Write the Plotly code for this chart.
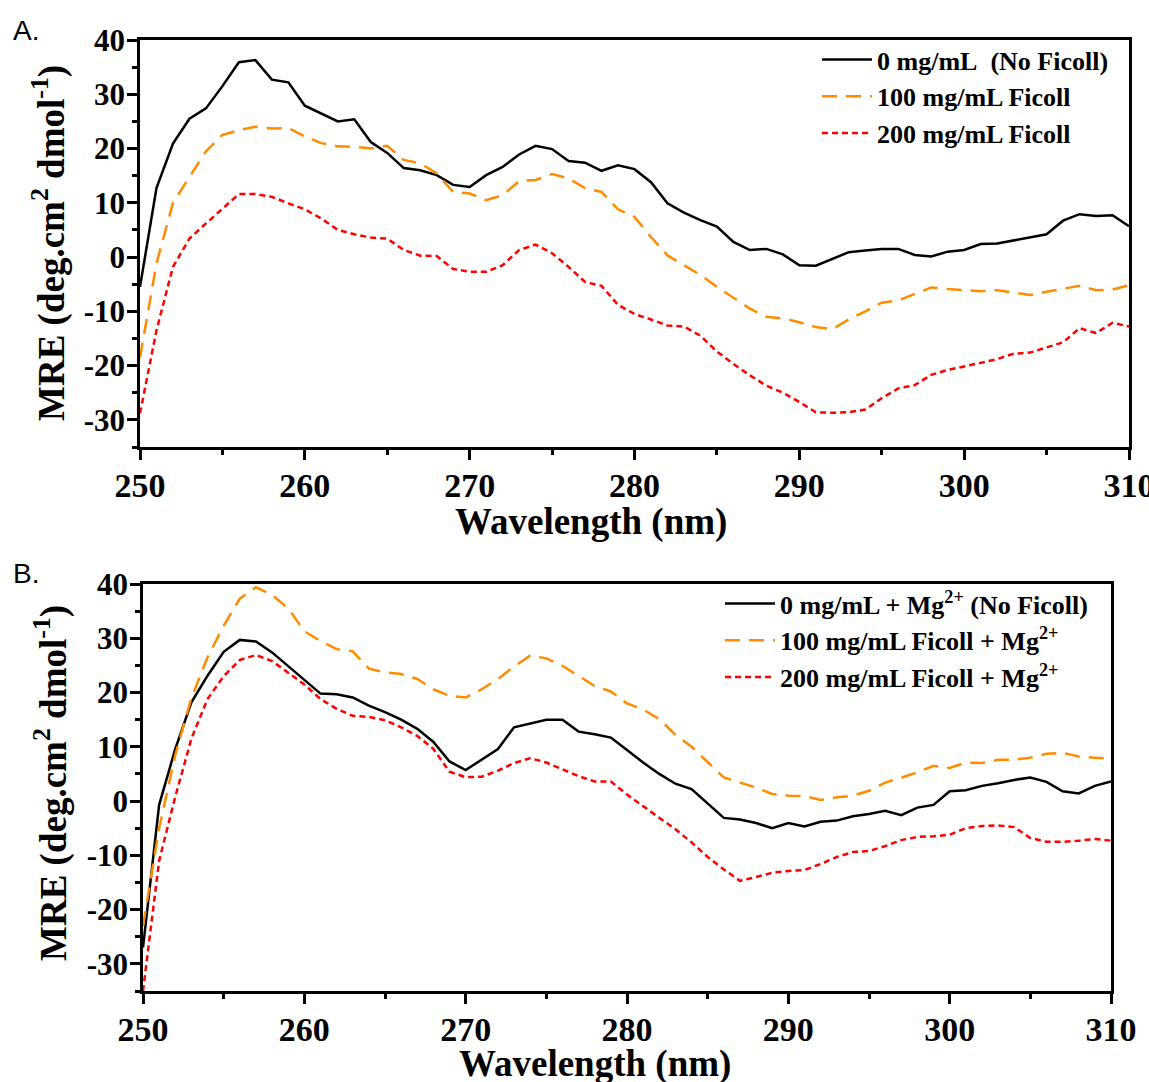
import plotly.graph_objects as go

W, H = 1149, 1082

wavelength = list(range(250, 311))

x_tick_vals = [250, 260, 270, 280, 290, 300, 310]
y_tick_vals = [-30, -20, -10, 0, 10, 20, 30, 40]
y_tick_text = ["-30", "-20", "-10", "0", "10", "20", "30", "40"]

a_no_ficoll = [-5.5, 12.7, 20.9, 25.5, 27.4, 31.5, 35.9, 36.3, 32.7, 32.2,
               27.9, 26.5, 25.0, 25.4, 21.2, 19.2, 16.4, 16.0, 15.1, 13.3,
               12.9, 15.1, 16.6, 18.9, 20.5, 19.9, 17.7, 17.4, 15.9, 16.9,
               16.2, 13.8, 9.9, 8.2, 6.8, 5.6, 2.8, 1.3, 1.5, 0.5,
               -1.5, -1.6, -0.4, 0.9, 1.2, 1.5, 1.5, 0.4, 0.1, 1.0,
               1.3, 2.4, 2.5, 3.1, 3.6, 4.2, 6.7, 7.9, 7.55, 7.7, 5.7]
a_ficoll_100 = [-18.5, -1.2, 10.0, 14.8, 19.5, 22.5, 23.4, 24.0, 23.7, 23.8,
                22.2, 21.0, 20.4, 20.3, 20.0, 20.5, 17.9, 17.3, 15.4, 12.0,
                11.7, 10.5, 11.4, 14.0, 14.2, 15.3, 14.5, 12.7, 12.0, 8.8,
                7.4, 3.7, 0.3, -1.5, -3.3, -5.5, -7.5, -9.5, -11.0, -11.3,
                -12.0, -12.9, -13.3, -11.5, -10.0, -8.4, -8.0, -6.8, -5.6, -5.9,
                -6.1, -6.3, -6.1, -6.5, -7.0, -6.4, -5.9, -5.3, -6.1, -6.0, -5.2]
a_ficoll_200 = [-28.8, -13.5, -1.8, 3.4, 6.2, 8.9, 11.6, 11.6, 11.1, 9.9,
                8.8, 7.1, 5.0, 4.2, 3.6, 3.4, 1.3, 0.25, 0.2, -2.2,
                -2.7, -2.7, -1.5, 1.3, 2.3, 0.7, -1.8, -4.6, -5.3, -8.8,
                -10.5, -11.5, -12.6, -12.8, -14.5, -17.4, -19.7, -21.8, -23.7, -25.0,
                -26.7, -28.6, -28.7, -28.6, -28.1, -26.0, -24.2, -23.6, -21.7, -20.8,
                -20.2, -19.5, -18.8, -17.8, -17.6, -16.6, -15.7, -13.1, -14.0, -12.1, -12.8]

b_no_ficoll = [-27.0, -0.7, 9.6, 18.2, 23.1, 27.5, 29.7, 29.4, 27.4, 24.9,
               22.3, 19.8, 19.7, 19.1, 17.6, 16.4, 15.0, 13.3, 10.9, 7.3,
               5.7, 7.6, 9.6, 13.6, 14.3, 15.0, 15.0, 12.8, 12.3, 11.7,
               9.4, 7.1, 5.0, 3.2, 2.2, -0.5, -3.1, -3.4, -4.05, -5.0,
               -4.05, -4.7, -3.8, -3.6, -2.8, -2.4, -1.8, -2.6, -1.2, -0.7,
               1.8, 2.0, 2.8, 3.3, 3.9, 4.35, 3.55, 1.8, 1.4, 2.8, 3.6]
b_ficoll_100 = [-23.0, -5.0, 8.5, 19.0, 26.5, 32.3, 37.3, 39.4, 38.0, 35.5,
                31.3, 29.5, 28.0, 27.6, 24.4, 23.7, 23.4, 22.5, 20.6, 19.4,
                19.1, 20.6, 22.5, 24.8, 26.8, 26.3, 24.9, 23.1, 21.2, 20.2,
                18.0, 16.9, 15.1, 12.2, 10.0, 7.2, 4.35, 3.4, 2.5, 1.3,
                1.0, 0.9, 0.2, 0.7, 1.0, 1.9, 3.4, 4.3, 5.3, 6.5,
                6.1, 7.1, 7.0, 7.6, 7.6, 8.0, 8.7, 8.9, 8.2, 8.0, 7.8]
b_ficoll_200 = [-35.0, -11.0, 0.8, 11.5, 18.8, 23.0, 26.0, 26.9, 25.8, 23.7,
                21.5, 18.8, 17.0, 15.7, 15.5, 14.9, 13.6, 12.0, 9.6, 5.4,
                4.4, 4.5, 5.6, 7.0, 7.9, 7.1, 5.9, 4.6, 3.6, 3.6,
                1.2, -0.9, -3.0, -5.2, -7.6, -10.3, -12.6, -14.7, -14.0, -13.2,
                -12.9, -12.7, -11.6, -10.3, -9.4, -9.2, -8.3, -7.2, -6.6, -6.5,
                -6.2, -5.0, -4.6, -4.5, -4.8, -6.8, -7.5, -7.5, -7.3, -7.0, -7.3]

names_a = ["0 mg/mL\u00a0 (No Ficoll)", "100 mg/mL Ficoll", "200 mg/mL Ficoll"]
names_b = ["0 mg/mL + Mg<sup>2+</sup> (No Ficoll)",
           "100 mg/mL Ficoll + Mg<sup>2+</sup>",
           "200 mg/mL Ficoll + Mg<sup>2+</sup>"]

colors = ["#000000", "#FF8C00", "#FF0000"]
dashes = ["solid", "15px,9px", "6px,4px"]

SERIF = "Liberation Serif, Times New Roman, serif"
LW = 2.5

fig = go.Figure()
for ys, nm, c, d in zip([a_no_ficoll, a_ficoll_100, a_ficoll_200], names_a, colors, dashes):
    fig.add_trace(go.Scatter(x=wavelength, y=ys, mode="lines", name=nm,
                             line=dict(color=c, width=LW, dash=d),
                             xaxis="x", yaxis="y", legend="legend"))
for ys, nm, c, d in zip([b_no_ficoll, b_ficoll_100, b_ficoll_200], names_b, colors, dashes):
    fig.add_trace(go.Scatter(x=wavelength, y=ys, mode="lines", name=nm,
                             line=dict(color=c, width=LW, dash=d),
                             xaxis="x2", yaxis="y2", legend="legend2"))


def px_x(p):
    return p / W


def px_y(p):
    return 1 - p / H


def xaxis_style(domain, anchor):
    return dict(domain=domain, anchor=anchor, range=[250, 310], automargin=False,
                tickmode="array", tickvals=x_tick_vals,
                ticktext=[str(v) for v in x_tick_vals],
                ticks="outside", ticklen=10, tickwidth=2.5, tickcolor="black",
                minor=dict(ticks="outside", ticklen=5, tickwidth=2.5,
                           tickmode="linear", tick0=250, dtick=5,
                           tickcolor="black", showgrid=False),
                showline=True, linecolor="black", linewidth=2.5, mirror=True,
                showgrid=False, zeroline=False, ticklabeloverflow="allow",
                tickfont=dict(family=SERIF, size=34, color="black", weight="bold"),
                ticklabelstandoff=-4)


def yaxis_style(domain, anchor):
    return dict(domain=domain, anchor=anchor, range=[-35, 40], automargin=False,
                tickmode="array", tickvals=y_tick_vals, ticktext=y_tick_text,
                ticks="outside", ticklen=10, tickwidth=2.5, tickcolor="black",
                minor=dict(ticks="outside", ticklen=5, tickwidth=2.5,
                           tickmode="linear", tick0=-35, dtick=5,
                           tickcolor="black", showgrid=False),
                showline=True, linecolor="black", linewidth=2.5, mirror=True,
                showgrid=False, zeroline=False, ticklabeloverflow="allow",
                tickfont=dict(family=SERIF, size=31, color="black", weight="bold"),
                ticklabelstandoff=-4)


legend_font = dict(family=SERIF, size=26, color="black", weight="bold")

fig.update_layout(
    width=W, height=H,
    margin=dict(l=0, r=0, t=0, b=0, autoexpand=False),
    paper_bgcolor="white", plot_bgcolor="white",
    xaxis=xaxis_style([px_x(140), px_x(1129)], "y"),
    yaxis=yaxis_style([px_y(447), px_y(40)], "x"),
    xaxis2=xaxis_style([px_x(143), px_x(1111)], "y2"),
    yaxis2=yaxis_style([px_y(991), px_y(584)], "x2"),
    legend=dict(x=px_x(817), y=px_y(36), xanchor="left", yanchor="top",
                bgcolor="rgba(0,0,0,0)", font=legend_font, itemwidth=50,
                tracegroupgap=0),
    legend2=dict(x=px_x(720), y=px_y(580), xanchor="left", yanchor="top",
                 bgcolor="rgba(0,0,0,0)", font=legend_font, itemwidth=50,
                 tracegroupgap=0),
    showlegend=True,
)

ytitle = "MRE (deg.cm<sup>2</sup> dmol<sup>-1</sup>)"
title_font = dict(family=SERIF, size=37, color="black", weight="bold")
anns = [
    dict(text=ytitle, x=px_x(49), y=px_y(243), textangle=-90, font=title_font),
    dict(text=ytitle, x=px_x(51), y=px_y(783), textangle=-90, font=title_font),
    dict(text="Wavelength (nm)", x=px_x(591), y=px_y(522), font=title_font),
    dict(text="Wavelength (nm)", x=px_x(595), y=px_y(1064), font=title_font),
    dict(text="A.", x=px_x(11), y=px_y(30), xanchor="left",
         font=dict(family="Liberation Sans, Arial, sans-serif", size=28, color="black")),
    dict(text="B.", x=px_x(11), y=px_y(573), xanchor="left",
         font=dict(family="Liberation Sans, Arial, sans-serif", size=28, color="black")),
]
for a in anns:
    a.update(xref="paper", yref="paper", showarrow=False)
    a.setdefault("xanchor", "center")
    a.setdefault("yanchor", "middle")
fig.update_layout(annotations=anns)

fig.write_html("out.html")
